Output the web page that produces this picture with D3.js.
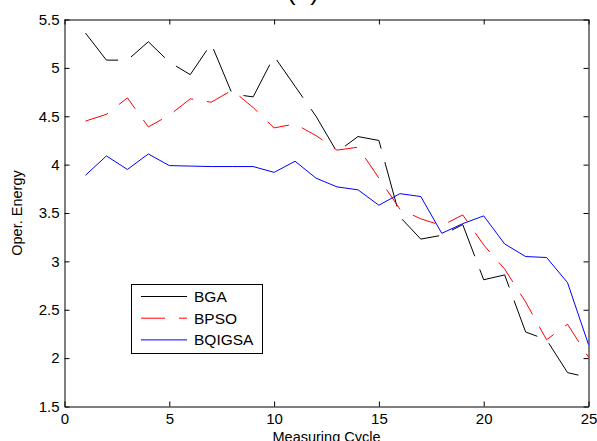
<!DOCTYPE html>
<html>
<head>
<meta charset="utf-8">
<script src="https://cdn.jsdelivr.net/npm/d3@7"></script>
<style>
  html, body { margin: 0; padding: 0; background: #fff; }
  svg { display: block; font-family: Arial, "Liberation Sans", sans-serif; }
</style>
</head>
<body>
<svg id="chart" width="597" height="441"></svg>
<script>
// Measuring cycles 1..25
const cycles = d3.range(1, 26);

// Operating energy per cycle for each algorithm
const bga = [5.36, 5.08, 5.08, 5.27, 5.06, 4.93, 5.25, 4.73, 4.70, 5.12,
             4.81, 4.50, 4.13, 4.29, 4.25, 3.46, 3.23, 3.27, 3.38, 2.81,
             2.86, 2.27, 2.19, 1.85, 1.80];
const bpso = [4.45, 4.52, 4.69, 4.39, 4.51, 4.68, 4.645, 4.77, 4.59, 4.38,
              4.42, 4.30, 4.15, 4.18, 3.86, 3.54, 3.44, 3.37, 3.48, 3.17,
              2.92, 2.58, 2.19, 2.35, 2.01];
const bqigsa = [3.89, 4.09, 3.95, 4.11, 3.99, 3.985, 3.98, 3.98, 3.98, 3.92,
                4.035, 3.86, 3.77, 3.74, 3.58, 3.70, 3.67, 3.29, 3.39, 3.47,
                3.18, 3.05, 3.04, 2.78, 2.14];

const seriesNames = ["BGA", "BPSO", "BQIGSA"];
const xTicks = [0, 5, 10, 15, 20, 25];
const yTicks = [1.5, 2, 2.5, 3, 3.5, 4, 4.5, 5, 5.5];

const series = [
  { name: seriesNames[0], values: bga,    color: "#000000", dash: "46,14", legendDash: null },
  { name: seriesNames[1], values: bpso,   color: "#ff0000", dash: "24,14", legendDash: "24,14" },
  { name: seriesNames[2], values: bqigsa, color: "#0000ff", dash: null,    legendDash: null }
];

const svg = d3.select("#chart");
const L = 64.5, R = 588.5, T = 19.5, B = 406.5;

const x = d3.scaleLinear().domain([0, 25]).range([L, R]);
const y = d3.scaleLinear().domain([1.5, 5.5]).range([B, T]);

// Axes: inward ticks on all four sides, labels only on bottom and left
const fmt = d => String(d);
svg.append("g").attr("transform", `translate(0,${B})`)
  .call(d3.axisBottom(x).tickValues(xTicks).tickFormat(fmt).tickSize(-5).tickSizeOuter(0).tickPadding(7));
svg.append("g").attr("transform", `translate(0,${T})`)
  .call(d3.axisTop(x).tickValues(xTicks).tickFormat("").tickSize(-5).tickSizeOuter(0));
svg.append("g").attr("transform", `translate(${L},0)`)
  .call(d3.axisLeft(y).tickValues(yTicks).tickFormat(fmt).tickSize(-5).tickSizeOuter(0).tickPadding(5));
svg.append("g").attr("transform", `translate(${R},0)`)
  .call(d3.axisRight(y).tickValues(yTicks).tickFormat("").tickSize(-5).tickSizeOuter(0));

svg.selectAll(".tick text").attr("font-size", 15).attr("fill", "#000")
  .attr("font-family", "Arial, 'Liberation Sans', sans-serif");
svg.selectAll(".domain, .tick line").attr("stroke", "#000").attr("stroke-width", 1);

// Series lines
const line = d3.line().x((d, i) => x(cycles[i])).y(d => y(d));
series.forEach(s => {
  svg.append("path")
    .datum(s.values)
    .attr("fill", "none")
    .attr("stroke", s.color)
    .attr("stroke-width", 1)
    .attr("stroke-dasharray", s.dash)
    .attr("d", line);
});

// Axis titles
svg.append("text")
  .attr("x", (L + R) / 2).attr("y", 442)
  .attr("text-anchor", "middle").attr("font-size", 14.5)
  .text("Measuring Cycle");
svg.append("text")
  .attr("transform", `translate(22,${(T + B) / 2}) rotate(-90)`)
  .attr("text-anchor", "middle").attr("font-size", 14.5)
  .text("Oper. Energy");

// Title, mostly above the top edge of the figure
svg.append("text")
  .attr("x", 303).attr("y", 0)
  .attr("text-anchor", "middle").attr("font-size", 26)
  .text("(a)");

// Legend
const lg = svg.append("g");
lg.append("rect")
  .attr("x", 131.5).attr("y", 284.5).attr("width", 131).attr("height", 69)
  .attr("fill", "#fff").attr("stroke", "#000").attr("stroke-width", 1);
series.forEach((s, i) => {
  const yy = 296.5 + i * 21.7;
  lg.append("line")
    .attr("x1", 141).attr("x2", 187).attr("y1", yy).attr("y2", yy)
    .attr("stroke", s.color).attr("stroke-width", 1)
    .attr("stroke-dasharray", s.legendDash);
  lg.append("text")
    .attr("x", 194).attr("y", yy + 5.5)
    .attr("font-size", 15.5)
    .text(s.name);
});
</script>
</body>
</html>
